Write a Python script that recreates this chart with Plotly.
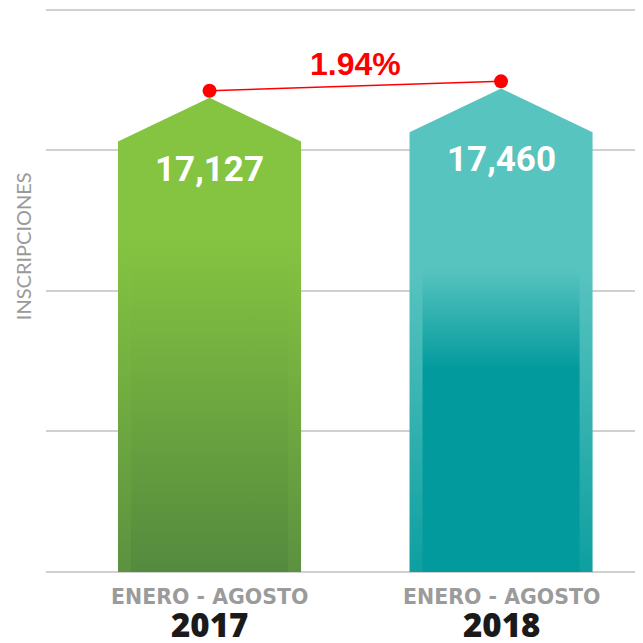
import plotly.graph_objects as go

# ---- data ----
categories = ["2017", "2018"]
period_label = "ENERO - AGOSTO"
values = [17127, 17460]
axis_title = "INSCRIPCIONES"
y_ticks = [0, 5000, 10000, 15000, 20000]

pct = (values[1] - values[0]) / values[0] * 100
pct_label = f"{pct:.2f}%"

# ---- style ----
top_colors = ["#85C441", "#58C4C0"]
outer_bottom = ["#5C9140", "#0E9FA0"]
inner_bottom = ["#548A3E", "#029A9C"]
inner_top_frac = [0.694, 0.62]       # inner panel top as fraction of value
inner_solid_frac = [0.0, 0.664]       # fraction of inner panel that is solid dark
half_w = 0.314
inset = 0.0446
cap_drop = 1810
apex_drop = 250
red = "#FF0000"

fig = go.Figure()

xs = list(range(len(categories)))
for i, (c, v) in enumerate(zip(xs, values)):
    shoulder = v - cap_drop
    apex = v - apex_drop
    inner_top = v * inner_top_frac[i]
    f = inner_top / apex
    fig.add_trace(go.Scatter(
        x=[c - half_w, c - half_w, c, c + half_w, c + half_w, c - half_w],
        y=[0, shoulder, apex, shoulder, 0, 0],
        mode="lines", line=dict(width=0), fill="toself",
        fillgradient=dict(type="vertical", start=0, stop=apex,
                          colorscale=[[0, outer_bottom[i]], [f, top_colors[i]], [1, top_colors[i]]]),
        hoverinfo="skip", showlegend=False))
    s = inner_solid_frac[i]
    cs = [[0, inner_bottom[i]]]
    if s > 0:
        cs.append([s, inner_bottom[i]])
    cs.append([1, top_colors[i]])
    fig.add_trace(go.Scatter(
        x=[c - half_w + inset, c - half_w + inset, c + half_w - inset, c + half_w - inset, c - half_w + inset],
        y=[0, inner_top, inner_top, 0, 0],
        mode="lines", line=dict(width=0), fill="toself",
        fillgradient=dict(type="vertical", start=0, stop=inner_top, colorscale=cs),
        hoverinfo="skip", showlegend=False))
    fig.add_annotation(x=c, y=v - 2790, text=f"<b>{v:,}</b>", showarrow=False,
                       font=dict(family="Roboto", size=35, color="white"),
                       yanchor="middle")
    fig.add_annotation(x=c, xref="x", y=-0.0388, yref="paper", text=f"<b>{period_label}</b>", showarrow=False,
                       font=dict(family="DejaVu Sans", size=20.5, color="#9B9B9B"), yanchor="middle")
    fig.add_annotation(x=c, xref="x", y=-0.088, yref="paper", text=categories[i], showarrow=False,
                       font=dict(family="Open Sans", size=33, color="#1A1A1A", weight=800), yanchor="middle")

# growth line with dots
fig.add_trace(go.Scatter(x=xs, y=values, mode="lines+markers",
                         line=dict(color=red, width=1.5), marker=dict(color=red, size=14),
                         hoverinfo="skip", showlegend=False))
fig.add_annotation(x=0.5, y=18080, text=f"<b>{pct_label}</b>", showarrow=False,
                   font=dict(family="Liberation Sans, Arial", size=32, color=red), yanchor="middle")

fig.add_annotation(x=-0.0385, xref="paper", y=0.58, yref="paper", text=axis_title, textangle=-90,
                   xanchor="center", yanchor="middle",
                   showarrow=False, font=dict(family="Lato", size=20, color="#9A9A9A"))

fig.update_layout(
    width=643, height=643,
    margin=dict(l=38, r=8, t=0, b=76),
    paper_bgcolor="white", plot_bgcolor="white",
    xaxis=dict(range=[-0.561, 1.487], showgrid=False, zeroline=False, showticklabels=False, fixedrange=True),
    yaxis=dict(range=[-107, 20071], tickvals=y_ticks, showticklabels=False, showgrid=True,
               gridcolor="#D0D0D0", gridwidth=2, zeroline=False),
)

fig.write_html("out.html")
